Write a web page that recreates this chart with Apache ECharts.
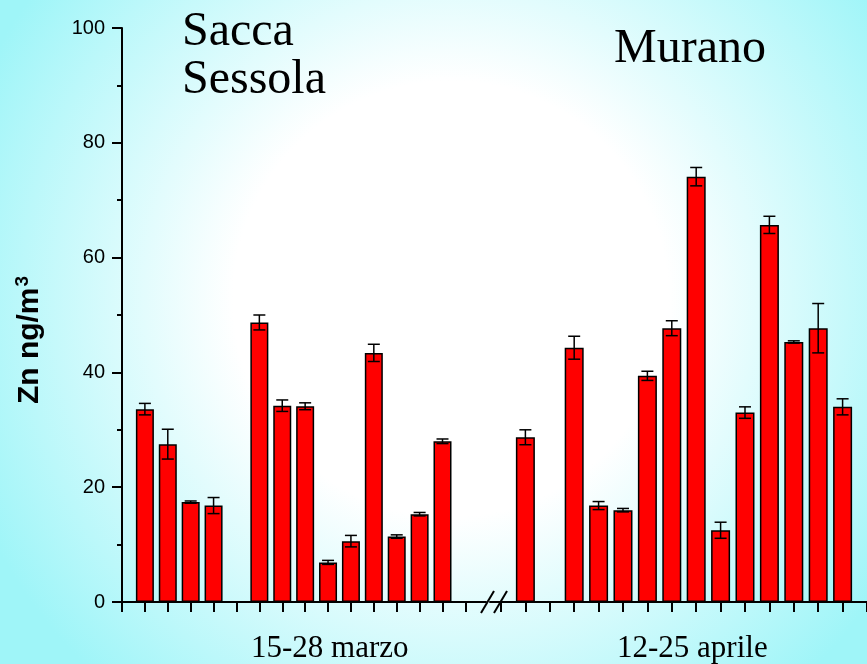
<!DOCTYPE html>
<html>
<head>
<meta charset="utf-8">
<script src="https://cdn.jsdelivr.net/npm/echarts@6/dist/echarts.min.js"></script>
<style>html,body{margin:0;padding:0;}#c{width:867px;height:664px;}</style>
</head>
<body>
<div id="c"></div>
<script>
// Sacca Sessola, 15-28 marzo (day of month)
const marzoDays = [15, 16, 17, 18, 20, 21, 22, 23, 24, 25, 26, 27, 28];
const marzoZn   = [33.6, 27.5, 17.4, 16.8, 48.7, 34.2, 34.1, 6.9, 10.6, 43.4, 11.4, 15.3, 28.0];
const marzoErr  = [1.0, 2.6, 0.2, 1.4, 1.3, 1.0, 0.6, 0.35, 1.0, 1.5, 0.3, 0.3, 0.4];
// Murano, 12-25 aprile
const aprileDays = [12, 14, 15, 16, 17, 18, 19, 20, 21, 22, 23, 24, 25];
const aprileZn   = [28.7, 44.3, 16.8, 16.0, 39.4, 47.7, 74.1, 12.5, 33.0, 65.7, 45.3, 47.7, 34.0];
const aprileErr  = [1.3, 2.0, 0.7, 0.3, 0.8, 1.3, 1.6, 1.4, 1.0, 1.5, 0.2, 4.3, 1.4];
const marzoTicks  = [14, 15, 16, 17, 18, 19, 20, 21, 22, 23, 24, 25, 26, 27, 28, 29];
const aprileTicks = [11, 12, 13, 14, 15, 16, 17, 18, 19, 20, 21, 22, 23, 24, 25, 26];
const yTicks = [0, 20, 40, 60, 80, 100];

const chart = echarts.init(document.getElementById('c'), null, {renderer: 'canvas'});

function pairs(xs, ys) { return xs.map((x, i) => [x, ys[i]]); }
function errData(xs, ys, es) { return xs.map((x, i) => [x, ys[i] - es[i], ys[i] + es[i]]); }

function errRender(params, api) {
  const x = api.value(0);
  const lo = api.coord([x, api.value(1)]);
  const hi = api.coord([x, api.value(2)]);
  const cap = 6;
  const st = {stroke: '#000', lineWidth: 1.5};
  return {
    type: 'group',
    children: [
      {type: 'line', shape: {x1: lo[0], y1: lo[1], x2: hi[0], y2: hi[1]}, style: st},
      {type: 'line', shape: {x1: lo[0] - cap, y1: lo[1], x2: lo[0] + cap, y2: lo[1]}, style: st},
      {type: 'line', shape: {x1: hi[0] - cap, y1: hi[1], x2: hi[0] + cap, y2: hi[1]}, style: st}
    ]
  };
}

const xAxisCommon = {
  type: 'value',
  splitLine: {show: false},
  axisLabel: {show: false},
  axisLine: {show: true, onZero: false, lineStyle: {color: '#000', width: 2}},
  axisTick: {show: true, inside: false, length: 10, lineStyle: {color: '#000', width: 2}}
};

const serif = '"Liberation Serif", "Times New Roman", serif';

const option = {
  animation: false,
  backgroundColor: {
    type: 'radial', x: 0.52, y: 0.45, r: 0.78,
    colorStops: [
      {offset: 0, color: '#ffffff'},
      {offset: 0.42, color: '#ffffff'},
      {offset: 1, color: '#9ff5f8'}
    ]
  },
  grid: [
    {left: 122, top: 28, width: 364, height: 574},
    {left: 490, top: 28, width: 377, height: 574}
  ],
  xAxis: [
    Object.assign({}, xAxisCommon, {gridIndex: 0, min: 14, max: 29.9,
      axisTick: Object.assign({}, xAxisCommon.axisTick, {customValues: marzoTicks})}),
    Object.assign({}, xAxisCommon, {gridIndex: 1, min: 10.55, max: 26,
      axisTick: Object.assign({}, xAxisCommon.axisTick, {customValues: aprileTicks})})
  ],
  yAxis: [
    {
      gridIndex: 0, type: 'value', min: 0, max: 100, interval: 20,
      splitLine: {show: false},
      axisLine: {show: true, lineStyle: {color: '#000', width: 2}},
      axisTick: {show: true, length: 10, lineStyle: {color: '#000', width: 2}},
      minorTick: {show: true, splitNumber: 2, length: 5, lineStyle: {color: '#000', width: 2}},
      axisLabel: {margin: 17, fontFamily: 'Liberation Sans, Arial', fontSize: 20, color: '#000',
        customValues: yTicks}
    },
    {gridIndex: 1, type: 'value', min: 0, max: 100, show: false}
  ],
  series: [
    {
      type: 'bar', xAxisIndex: 0, yAxisIndex: 0, barWidth: 18,
      data: pairs(marzoDays, marzoZn),
      itemStyle: {color: '#ff0000', borderColor: '#000', borderWidth: 1.5}
    },
    {
      type: 'custom', xAxisIndex: 0, yAxisIndex: 0,
      data: errData(marzoDays, marzoZn, marzoErr), renderItem: errRender, z: 5
    },
    {
      type: 'bar', xAxisIndex: 1, yAxisIndex: 1, barWidth: 19,
      data: pairs(aprileDays, aprileZn),
      itemStyle: {color: '#ff0000', borderColor: '#000', borderWidth: 1.5}
    },
    {
      type: 'custom', xAxisIndex: 1, yAxisIndex: 1,
      data: errData(aprileDays, aprileZn, aprileErr), renderItem: errRender, z: 5
    }
  ],
  graphic: [
    {type: 'text', left: 182, top: 8, style: {text: 'Sacca\nSessola', font: '48px ' + serif, lineHeight: 48, fill: '#000'}},
    {type: 'text', left: 614, top: 25, style: {text: 'Murano', font: '48px ' + serif, fill: '#000'}},
    {type: 'text', left: 251, top: 633, style: {text: '15-28 marzo', font: '31px ' + serif, fill: '#000'}},
    {type: 'text', left: 617, top: 633, style: {text: '12-25 aprile', font: '31px ' + serif, fill: '#000'}},
    {type: 'text', x: 30, y: 340, rotation: Math.PI / 2,
      style: {
        text: '{m|Zn ng/m}{s|3}', align: 'center', verticalAlign: 'middle',
        rich: {
          m: {font: 'bold 30px "Liberation Sans", Arial, sans-serif', fill: '#000'},
          s: {font: 'bold 19px "Liberation Sans", Arial, sans-serif', fill: '#000', padding: [0, 0, 15, 1]}
        }
      }}
  ]
};
chart.setOption(option);

// axis break marks, placed from the axes' own scales
const pL = chart.convertToPixel({xAxisIndex: 0, yAxisIndex: 0}, [29.9, 0]);
const pR = chart.convertToPixel({xAxisIndex: 1, yAxisIndex: 1}, [10.55, 0]);
const gx = pL[0], gy = pL[1];
chart.setOption({
  graphic: option.graphic.concat([
    {type: 'line', shape: {x1: gx - 5, y1: gy + 11, x2: gx + 8, y2: gy - 11}, style: {stroke: '#000', lineWidth: 2}, z: 10},
    {type: 'line', shape: {x1: pR[0] + 4, y1: gy + 11, x2: pR[0] + 17, y2: gy - 11}, style: {stroke: '#000', lineWidth: 2}, z: 10}
  ])
});
</script>
</body>
</html>
